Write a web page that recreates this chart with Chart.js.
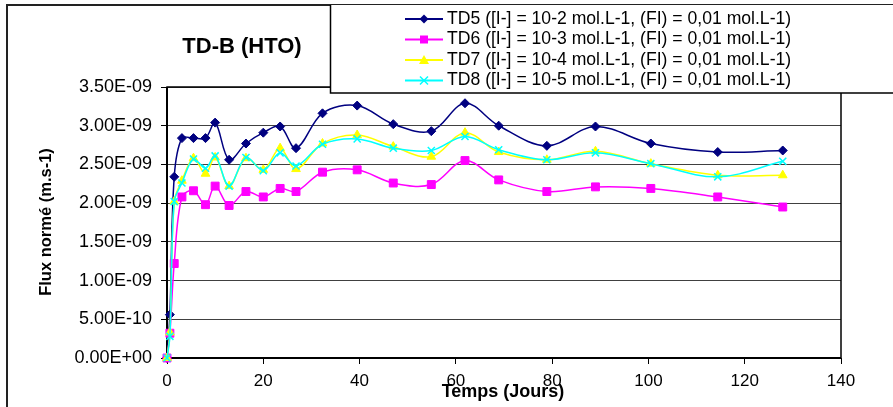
<!DOCTYPE html>
<html>
<head>
<meta charset="utf-8">
<title>TD-B (HTO)</title>
<script src="https://cdn.jsdelivr.net/npm/chart.js@4.4.1/dist/chart.umd.min.js"></script>
<style>
  body { margin: 0; background: #fff; }
  #wrap { width: 893px; height: 407px; }
</style>
</head>
<body>
<div id="wrap"><canvas id="fluxChart" width="893" height="407"></canvas></div>
<script>
// Temps en jours
var days = [0, 0.6, 1.5, 3.1, 5.5, 8.0, 10.0, 12.9, 16.4, 20.0, 23.5, 26.8, 32.3, 39.5, 47.0, 54.9, 61.9, 68.9, 78.9, 89.0, 100.5, 114.4, 127.9];

// Flux normé, en unités de 1E-09 m.s-1
var td5 = [0, 0.56, 2.34, 2.84, 2.84, 2.84, 3.04, 2.56, 2.77, 2.91, 2.99, 2.71, 3.16, 3.26, 3.02, 2.93, 3.29, 3.00, 2.74, 2.99, 2.77, 2.66, 2.68];
var td6 = [0, 0.32, 1.22, 2.08, 2.16, 1.98, 2.22, 1.97, 2.15, 2.08, 2.19, 2.15, 2.40, 2.43, 2.26, 2.24, 2.55, 2.30, 2.15, 2.21, 2.19, 2.08, 1.95];
var td7 = [0, 0.33, 2.02, 2.29, 2.58, 2.38, 2.59, 2.22, 2.58, 2.43, 2.71, 2.44, 2.77, 2.88, 2.73, 2.60, 2.91, 2.66, 2.56, 2.67, 2.51, 2.36, 2.36];
var td8 = [0, 0.28, 2.02, 2.26, 2.57, 2.45, 2.61, 2.22, 2.59, 2.42, 2.65, 2.48, 2.76, 2.83, 2.71, 2.68, 2.86, 2.69, 2.56, 2.65, 2.51, 2.34, 2.54];

var seriesLabels = [
    'TD5 ([I-] = 10-2 mol.L-1, (FI) = 0,01 mol.L-1)',
    'TD6 ([I-] = 10-3 mol.L-1, (FI) = 0,01 mol.L-1)',
    'TD7 ([I-] = 10-4 mol.L-1, (FI) = 0,01 mol.L-1)',
    'TD8 ([I-] = 10-5 mol.L-1, (FI) = 0,01 mol.L-1)'
];
var chartTitle = 'TD-B (HTO)';
var xTitle = 'Temps (Jours)';
var yTitle = 'Flux normé (m.s-1)';

var FONT = '"Liberation Sans", Arial, sans-serif';

function toPoints(values) {
    return values.map(function(v, i) { return { x: days[i], y: v }; });
}

// 2.5 -> "2.50E-09"
function sciLabel(v) {
    if (Math.abs(v) < 1e-9) return '0.00E+00';
    var parts = (v * 1e-9).toExponential(2).split('e');
    var exp = parseInt(parts[1], 10);
    var sign = exp < 0 ? '-' : '+';
    var e = Math.abs(exp);
    return parts[0] + 'E' + sign + (e < 10 ? '0' + e : e);
}

function drawMarker(ctx, style, x, y, color) {
    ctx.save();
    ctx.fillStyle = color;
    ctx.strokeStyle = color;
    ctx.beginPath();
    if (style === 'rectRot') {
        ctx.moveTo(x - 4.5, y); ctx.lineTo(x, y - 4.5); ctx.lineTo(x + 4.5, y); ctx.lineTo(x, y + 4.5);
        ctx.closePath(); ctx.fill();
    } else if (style === 'rect') {
        ctx.rect(x - 4, y - 4, 8, 8); ctx.fill();
    } else if (style === 'triangle') {
        ctx.moveTo(x, y - 5); ctx.lineTo(x + 5, y + 4); ctx.lineTo(x - 5, y + 4);
        ctx.closePath(); ctx.fill();
    } else {
        ctx.lineWidth = 1.5;
        ctx.moveTo(x - 4, y - 4); ctx.lineTo(x + 4, y + 4);
        ctx.moveTo(x + 4, y - 4); ctx.lineTo(x - 4, y + 4);
        ctx.stroke();
    }
    ctx.restore();
}

var seriesStyles = [
    { color: '#000080', point: 'rectRot', radius: 4.5 },
    { color: '#FF00FF', point: 'rect', radius: 5.6 },
    { color: '#FFFF00', point: 'triangle', radius: 5 },
    { color: '#00FFFF', point: 'crossRot', radius: 5 }
];
var seriesData = [td5, td6, td7, td8];

var datasets = seriesData.map(function(values, i) {
    var s = seriesStyles[i];
    return {
        label: seriesLabels[i],
        data: toPoints(values),
        borderColor: s.color,
        backgroundColor: s.color,
        borderWidth: 1.5,
        pointStyle: s.point,
        pointRadius: s.radius,
        pointBorderWidth: s.point === 'crossRot' ? 1.5 : 1,
        pointBorderColor: s.color,
        pointBackgroundColor: s.color,
        tension: 0.35,
        clip: false,
        order: 4 - i // TD8 on top, like Excel
    };
});

// Frame, plot border, title, axis titles and legend box
var decorPlugin = {
    id: 'decor',
    beforeDraw: function(chart) {
        var ctx = chart.ctx;
        ctx.save();
        ctx.fillStyle = '#fff';
        ctx.fillRect(0, 0, chart.width, chart.height);
        ctx.restore();
    },
    beforeDatasetsDraw: function(chart) {
        var ctx = chart.ctx, a = chart.chartArea;
        ctx.save();
        ctx.strokeStyle = '#000';
        ctx.lineWidth = 1.5;
        ctx.strokeRect(a.left, a.top, a.right - a.left, a.bottom - a.top);
        ctx.lineWidth = 2;
        ctx.beginPath();
        ctx.moveTo(a.left, a.top); ctx.lineTo(a.left, a.bottom); ctx.lineTo(a.right, a.bottom);
        ctx.stroke();
        ctx.restore();
    },
    afterDraw: function(chart) {
        var ctx = chart.ctx;
        ctx.save();

        // outer chart frame
        ctx.strokeStyle = '#222';
        ctx.lineWidth = 2;
        ctx.beginPath();
        ctx.moveTo(7, chart.height); ctx.lineTo(7, 5); ctx.lineTo(chart.width, 5);
        ctx.stroke();

        // title
        ctx.fillStyle = '#000';
        ctx.textAlign = 'center';
        ctx.textBaseline = 'middle';
        ctx.font = 'bold 22px ' + FONT;
        ctx.fillText(chartTitle, 242, 47);

        // axis titles
        ctx.font = 'bold 18px ' + FONT;
        ctx.fillText(xTitle, 503, 392);
        ctx.save();
        ctx.translate(46, 222);
        ctx.rotate(-Math.PI / 2);
        ctx.font = 'bold 16.5px ' + FONT;
        ctx.fillText(yTitle, 0, 0);
        ctx.restore();

        // legend box
        ctx.fillStyle = '#fff';
        ctx.fillRect(330, 5, chart.width - 330, 88);
        ctx.strokeStyle = '#000';
        ctx.lineWidth = 1.5;
        ctx.beginPath();
        ctx.moveTo(330.5, 5); ctx.lineTo(330.5, 93); ctx.lineTo(chart.width, 93);
        ctx.stroke();

        ctx.textAlign = 'left';
        ctx.font = '17.6px ' + FONT;
        seriesLabels.forEach(function(label, i) {
            var y = 19 + i * 20.5;
            var s = seriesStyles[i];
            ctx.strokeStyle = s.color;
            ctx.lineWidth = 2;
            ctx.beginPath();
            ctx.moveTo(405, y); ctx.lineTo(443, y);
            ctx.stroke();
            drawMarker(ctx, s.point, 424, y, s.color);
            ctx.fillStyle = '#000';
            ctx.fillText(label, 447, y);
        });
        ctx.restore();
    }
};

var ctx = document.getElementById('fluxChart').getContext('2d');
var fluxChart = new Chart(ctx, {
    type: 'line',
    data: { datasets: datasets },
    options: {
        responsive: false,
        animation: false,
        devicePixelRatio: 1,
        layout: { padding: { left: 0, top: 87, right: 52, bottom: 0 } },
        plugins: {
            legend: { display: false },
            title: { display: false },
            tooltip: { enabled: false }
        },
        scales: {
            x: {
                type: 'linear',
                min: 0,
                max: 140,
                afterFit: function(scale) { scale.height = 49; },
                ticks: {
                    stepSize: 20,
                    autoSkip: false,
                    maxRotation: 0,
                    padding: 7,
                    color: '#000',
                    font: { family: FONT, size: 17 }
                },
                grid: {
                    drawOnChartArea: false,
                    tickLength: 6,
                    tickColor: '#000'
                },
                border: { display: false }
            },
            y: {
                min: 0,
                max: 3.5,
                afterFit: function(scale) { scale.width = 167; },
                ticks: {
                    stepSize: 0.5,
                    padding: 9,
                    color: '#000',
                    font: { family: FONT, size: 18 },
                    callback: function(value) { return sciLabel(value); }
                },
                grid: {
                    color: '#404040',
                    lineWidth: 1,
                    tickLength: 6,
                    tickColor: '#000'
                },
                border: { display: false }
            }
        }
    },
    plugins: [decorPlugin]
});
</script>
</body>
</html>
